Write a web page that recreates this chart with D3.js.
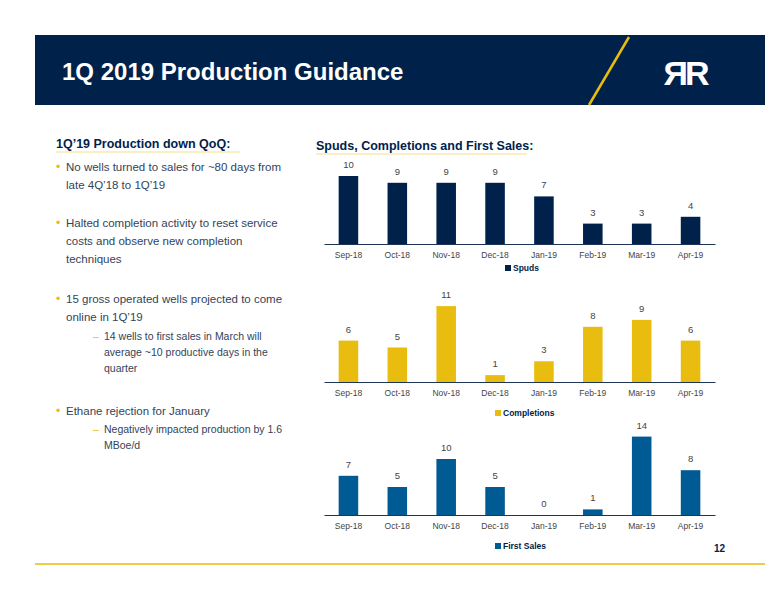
<!DOCTYPE html>
<html><head><meta charset="utf-8">
<script src="https://cdn.jsdelivr.net/npm/d3@7"></script>
<style>body{margin:0;background:#fff}svg{display:block}</style>
</head><body><svg id="c" width="776" height="600"></svg>
<script>
const months = ["Sep-18","Oct-18","Nov-18","Dec-18","Jan-19","Feb-19","Mar-19","Apr-19"];
const spuds = [10,9,9,9,7,3,3,4];
const completions = [6,5,11,1,3,8,9,6];
const firstSales = [7,5,10,5,0,1,14,8];

const svg = d3.select("#c");
const font = "Liberation Sans, Arial, sans-serif";

// header
svg.append("rect").attr("x",35).attr("y",35).attr("width",730).attr("height",70).attr("fill","#00224a");
svg.append("text").attr("x",62).attr("y",80).attr("fill","#fff").attr("font-family",font)
  .attr("font-weight","bold").attr("font-size",24).text("1Q 2019 Production Guidance");
svg.append("line").attr("x1",629).attr("y1",37).attr("x2",589).attr("y2",105)
  .attr("stroke","#e8bd0f").attr("stroke-width",2.5);
svg.append("text").attr("x",685).attr("y",85).attr("text-anchor","middle").attr("fill","#fff")
  .attr("font-family",font).attr("font-weight","bold").attr("font-size",34).attr("letter-spacing",-3).text("ЯR");

// footer
svg.append("line").attr("x1",35).attr("x2",765).attr("y1",564).attr("y2",564).attr("stroke","#e8bd0f").attr("stroke-width",1.5);
svg.append("text").attr("x",725).attr("y",552).attr("text-anchor","end").attr("font-family",font)
  .attr("font-weight","bold").attr("font-size",10).attr("fill","#00224a").text("12");

// left text
const lt = svg.append("g").attr("font-family",font).attr("fill","#33435a");
lt.append("text").attr("x",56).attr("y",148).attr("font-weight","bold").attr("font-size",12.5).attr("fill","#00224a").text("1Q’19 Production down QoQ:");
lt.append("line").attr("x1",56).attr("x2",240).attr("y1",152).attr("y2",152).attr("stroke","#f2df8c").attr("stroke-width",1);
const bullets = [
  {y:171, lines:["No wells turned to sales for ~80 days from","late 4Q’18 to 1Q’19"]},
  {y:227, lines:["Halted completion activity to reset service","costs and observe new completion","techniques"]},
  {y:303, lines:["15 gross operated wells projected to come","online in 1Q’19"]},
  {y:415, lines:["Ethane rejection for January"]}
];
bullets.forEach(b=>{
  lt.append("text").attr("x",56).attr("y",b.y).attr("fill","#e8bd0f").attr("font-size",12).text("•");
  b.lines.forEach((l,i)=>lt.append("text").attr("x",66).attr("y",b.y+i*18).attr("font-size",11.5).text(l));
});
const subs = [
  {y:340, lines:["14 wells to first sales in March will","average ~10 productive days in the","quarter"]},
  {y:433, lines:["Negatively impacted production by 1.6","MBoe/d"]}
];
subs.forEach(b=>{
  lt.append("text").attr("x",93).attr("y",b.y).attr("fill","#e8bd0f").attr("font-size",10.5).text("–");
  b.lines.forEach((l,i)=>lt.append("text").attr("x",104).attr("y",b.y+i*16).attr("font-size",10.5).text(l));
});

// right title
svg.append("text").attr("x",316).attr("y",150).attr("font-family",font).attr("font-weight","bold")
  .attr("font-size",12.5).attr("fill","#00224a").text("Spuds, Completions and First Sales:");
svg.append("line").attr("x1",316).attr("x2",527).attr("y1",154).attr("y2",154).attr("stroke","#f2df8c").attr("stroke-width",1);

const x = d3.scaleBand().domain(months).range([324,715]).paddingInner(0.6).paddingOuter(0.3);

function chart(data, base, perUnit, color, name, legendX, legendY){
  const y = d3.scaleLinear().domain([0,1]).range([base, base-perUnit]);
  const g = svg.append("g");
  g.selectAll("rect").data(data).join("rect")
    .attr("x",(d,i)=>x(months[i])).attr("width",x.bandwidth())
    .attr("y",d=>y(d)).attr("height",d=>base-y(d)).attr("fill",color);
  g.selectAll("text.v").data(data).join("text").attr("class","v")
    .attr("x",(d,i)=>x(months[i])+x.bandwidth()/2).attr("y",d=>y(d)-8)
    .attr("text-anchor","middle").attr("font-family",font).attr("font-size",9.5).attr("fill","#444").text(d=>d);
  const ax = g.append("g").attr("transform",`translate(0,${base})`)
    .call(d3.axisBottom(x).tickSize(0).tickPadding(8));
  ax.select(".domain").attr("stroke","#1f3557").attr("stroke-width",1.2);
  ax.selectAll("text").attr("font-family",font).attr("font-size",8.5).attr("fill","#444");
  g.append("rect").attr("x",legendX).attr("y",legendY-6).attr("width",6).attr("height",6).attr("fill",color);
  g.append("text").attr("x",legendX+8).attr("y",legendY).attr("font-family",font).attr("font-weight","bold")
    .attr("font-size",8.5).attr("fill","#00224a").text(name);
}
chart(spuds,244,6.8,"#00224a","Spuds",505,271);
chart(completions,382,6.9,"#e8bd0f","Completions",495,416);
chart(firstSales,515,5.6,"#005a94","First Sales",495,549);
</script></body></html>
